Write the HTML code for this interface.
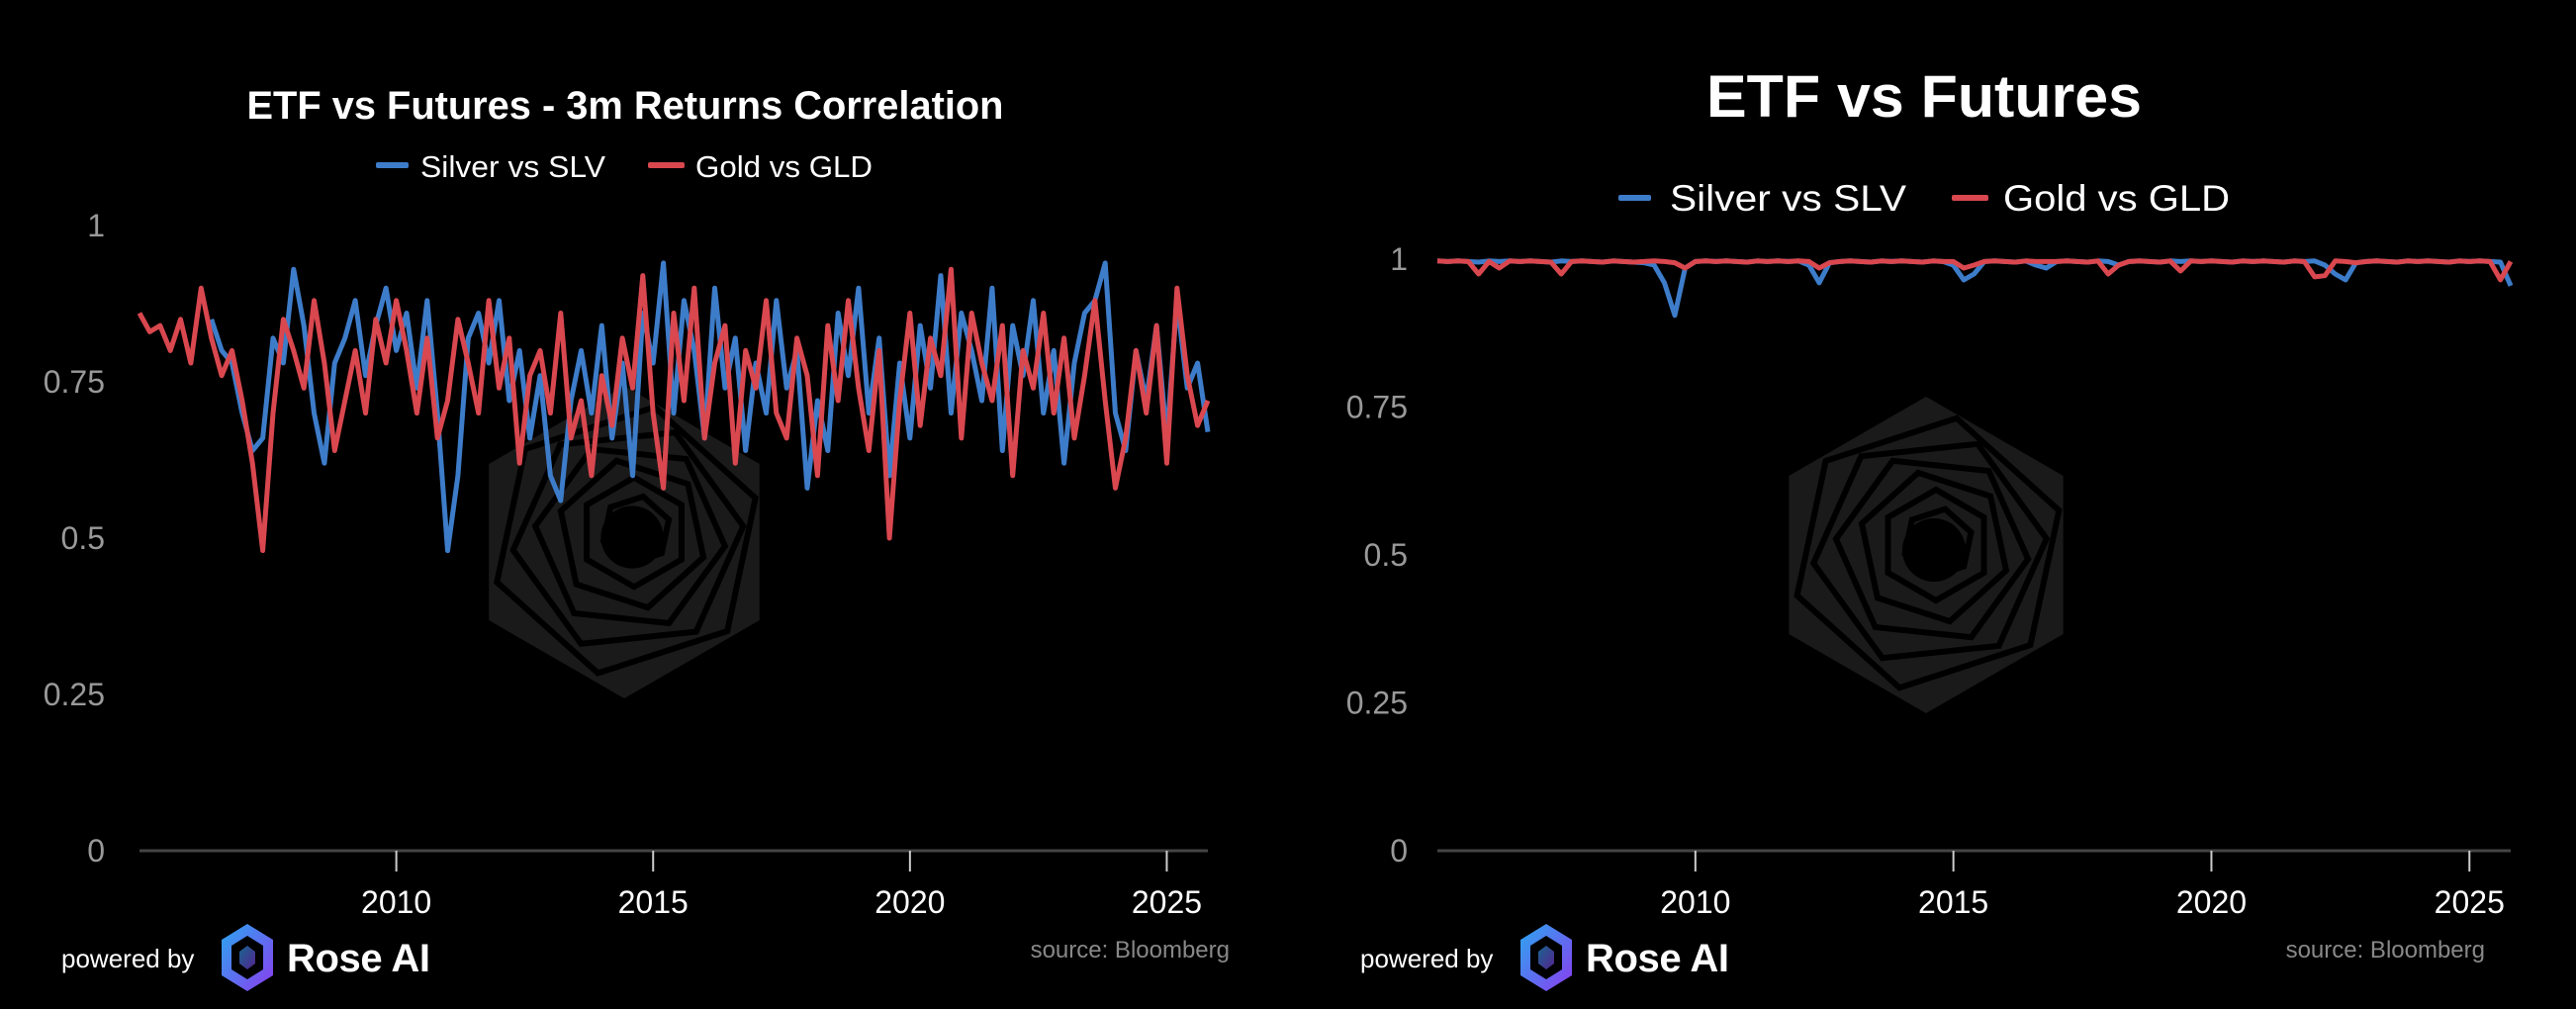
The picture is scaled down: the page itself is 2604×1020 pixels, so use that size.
<!DOCTYPE html>
<html><head><meta charset="utf-8"><style>
html,body{margin:0;padding:0;background:#000;}
svg{display:block;font-family:"Liberation Sans",sans-serif;}
</style></head><body>
<svg id="root" width="2604" height="1020" viewBox="0 0 2604 1020">
<rect width="2604" height="1020" fill="#000"/>
<defs>
<linearGradient id="rg" x1="0" y1="0" x2="1" y2="1"><stop offset="0" stop-color="#2aa7f0"/><stop offset="1" stop-color="#8b3cf0"/></linearGradient>
</defs>
<g id="wm1"></g>
<g id="wm2"></g>

<g>
<text x="632" y="120" fill="#fff" font-size="40" font-weight="bold" text-anchor="middle" textLength="765" lengthAdjust="spacingAndGlyphs">ETF vs Futures - 3m Returns Correlation</text>
<g>
<g><rect x="380" y="164" width="33" height="6" rx="2" fill="#3d7cc9"/><text x="425" y="179" fill="#fff" font-size="31" textLength="187" lengthAdjust="spacingAndGlyphs">Silver vs SLV</text></g>
<g><rect x="655" y="164" width="37" height="6" rx="2" fill="#d9474f"/><text x="703" y="179" fill="#fff" font-size="31" textLength="179" lengthAdjust="spacingAndGlyphs">Gold vs GLD</text></g>
</g>
<g id="yl"></g>
<g id="xl"></g>
<g id="sl"></g>
<text x="62" y="978" fill="#fff" font-size="26">powered by</text>
<g><polygon points="250,934 276,950 276,986 250,1002 224,986 224,950" fill="url(#rg)"/><polygon points="250,946 266,956 266,980 250,990 234,980 234,956" fill="#000"/><polygon points="250,956 258,962 258,974 250,980 242,974 242,962" fill="url(#rg)" opacity="0.6"/></g>
<text x="290" y="982" fill="#fff" font-size="40" font-weight="bold" textLength="145">Rose AI</text>
<text x="1243" y="968" fill="#888" font-size="24" text-anchor="end">source: Bloomberg</text>
</g>

<g>
<text x="1945" y="118" fill="#fff" font-size="60" font-weight="bold" text-anchor="middle" textLength="440" lengthAdjust="spacingAndGlyphs">ETF vs Futures</text>
<g>
<g><rect x="1636" y="197" width="33" height="6" rx="2" fill="#3d7cc9"/><text x="1688" y="213" fill="#fff" font-size="37" textLength="239" lengthAdjust="spacingAndGlyphs">Silver vs SLV</text></g>
<g><rect x="1973" y="197" width="37" height="6" rx="2" fill="#d9474f"/><text x="2025" y="213" fill="#fff" font-size="37" textLength="229" lengthAdjust="spacingAndGlyphs">Gold vs GLD</text></g>
</g>
<g id="yr"></g>
<g id="xr"></g>
<g id="sr"></g>
<text x="1375" y="978" fill="#fff" font-size="26">powered by</text>
<g><polygon points="1563,934 1589,950 1589,986 1563,1002 1537,986 1537,950" fill="url(#rg)"/><polygon points="1563,946 1579,956 1579,980 1563,990 1547,980 1547,956" fill="#000"/><polygon points="1563,956 1571,962 1571,974 1563,980 1555,974 1555,962" fill="url(#rg)" opacity="0.6"/></g>
<text x="1603" y="982" fill="#fff" font-size="40" font-weight="bold" textLength="145">Rose AI</text>
<text x="2512" y="968" fill="#888" font-size="24" text-anchor="end">source: Bloomberg</text>
</g>
</svg>
<script>
const yTicks = [0, 0.25, 0.5, 0.75, 1];
const yTickLabels = ["0", "0.25", "0.5", "0.75", "1"];
const xTicks = [2010, 2015, 2020, 2025];
const xTickLabels = ["2010", "2015", "2020", "2025"];
const step = 0.2;
const silverStartL = 2006.4;
const goldStartL = 2005.0;
const silverCorr3m = [.85,.80,.78,
.70,.64,.66,.82,.78, .93,.84,.70,.62,.78, .82,.88,.76,.84,.90, .80,.86,.74,.88,.70,
.48,.60,.82,.86,.78, .88,.72,.80,.66,.76, .60,.56,.72,.80,.70, .84,.66,.78,.60,.86,
.78,.94,.70,.88,.80, .66,.90,.74,.82,.64, .78,.70,.88,.74,.80, .58,.72,.64,.86,.76,
.90,.70,.82,.60,.78, .66,.84,.74,.92,.70, .86,.80,.72,.90,.64, .84,.76,.88,.70,.80,
.62,.78,.86,.88,.94, .70,.64,.80,.72,.84, .66,.88,.74,.78,.67];
const goldCorr3m = [.86,.83,.84,.80,.85,.78,.90,.82,.76,.80,
.72,.62,.48,.70,.85,.80,.74,.88,.78,.64,
.72,.80,.70,.85,.78,.88,.80,.70,.82,.66,
.72,.85,.78,.70,.88,.74,.82,.62,.76,.80,
.70,.86,.66,.72,.60,.76,.68,.82,.74,.92,
.70,.58,.86,.72,.90,.66,.78,.84,.62,.80,
.74,.88,.70,.66,.82,.76,.60,.84,.72,.88,
.74,.64,.80,.50,.72,.86,.68,.82,.76,.93,
.66,.86,.78,.72,.84,.60,.80,.74,.86,.70,
.82,.66,.76,.88,.72,.58,.66,.80,.70,.84,
.62,.90,.76,.68,.72];
const startR = 2005.0;
const silverCorrFull = [.997,.996,.997,.996,.995,.997,.996,.997,.996,.997,
.996,.995,.997,.996,.997,.996,.995,.997,.996,.995,
.994,.990,.960,.905,.985,.996,.997,.996,.997,.996,
.995,.997,.996,.997,.996,.997,.990,.960,.994,.996,
.997,.996,.995,.997,.996,.997,.996,.995,.997,.996,
.990,.965,.975,.996,.997,.996,.995,.997,.990,.985,
.996,.997,.996,.995,.997,.996,.990,.996,.997,.996,
.995,.997,.996,.997,.996,.997,.996,.995,.997,.996,
.997,.996,.995,.997,.996,.997,.990,.975,.965,.994,
.996,.997,.996,.995,.997,.996,.997,.996,.995,.997,
.996,.997,.996,.995,.955];
const goldCorrFull = [.997,.996,.997,.996,.975,.996,.985,.997,.996,.997,
.996,.995,.975,.996,.997,.996,.995,.997,.996,.995,
.996,.997,.996,.994,.985,.996,.997,.996,.997,.996,
.995,.997,.996,.997,.996,.997,.996,.985,.994,.996,
.997,.996,.995,.997,.996,.997,.996,.995,.997,.996,
.996,.985,.990,.996,.997,.996,.995,.997,.996,.996,
.996,.997,.996,.995,.997,.975,.990,.996,.997,.996,
.995,.997,.980,.997,.996,.997,.996,.995,.997,.996,
.997,.996,.995,.997,.996,.970,.972,.997,.996,.994,
.996,.997,.996,.995,.997,.996,.997,.996,.995,.997,
.996,.997,.996,.965,.996];

const NS = "http://www.w3.org/2000/svg";
function mk(tag, attrs, parent){const e=document.createElementNS(NS,tag);for(const k in attrs)e.setAttribute(k,attrs[k]);parent.appendChild(e);return e;}

function drawChart(cfg){
  const xS = yr => cfg.x0 + (yr - 2005.0) / (2025.8 - 2005.0) * (cfg.x1 - cfg.x0);
  const yS = v => cfg.yBottom - v * (cfg.yBottom - cfg.yTop);
  const yg = document.getElementById(cfg.yId);
  yTicks.forEach((t,i)=>{
    const tx = mk('text',{x:cfg.yLabelX,y:yS(t)+11,fill:'#999','font-size':32,'text-anchor':'end'},yg);
    
    
    tx.textContent = yTickLabels[i];
  });
  const xg = document.getElementById(cfg.xId);
  const ax = mk('line',{x1:cfg.x0,x2:cfg.x1,y1:cfg.yBottom,y2:cfg.yBottom,stroke:'#444','stroke-width':3},xg);
  
  
  xTicks.forEach((t,i)=>{
    const tk = mk('line',{x1:xS(t),x2:xS(t),y1:cfg.yBottom,y2:cfg.yBottom+21,stroke:'#ccc','stroke-width':2},xg);
    
    
    const tx = mk('text',{x:xS(t),y:cfg.yBottom+63,fill:'#fff','font-size':32,'text-anchor':'middle'},xg);
    
    
    tx.textContent = xTickLabels[i];
  });
  const sg = document.getElementById(cfg.sId);
  cfg.series.forEach(s=>{
    const pts = s.values.map((v,i)=>xS(s.start+i*step).toFixed(1)+','+yS(v).toFixed(1)).join(' ');
    const pl = mk('polyline',{points:pts,fill:'none',stroke:s.color,'stroke-width':cfg.sw,'stroke-linejoin':'round'},sg);
    
    
  });
}
drawChart({x0:141,x1:1221,yTop:228,yBottom:860,yLabelX:106,yId:'yl',xId:'xl',sId:'sl',sw:5,
  series:[{values:silverCorr3m,start:silverStartL,color:'#3d7cc9',name:'silver-vs-slv-line'},
          {values:goldCorr3m,start:goldStartL,color:'#d9474f',name:'gold-vs-gld-line'}]});
drawChart({x0:1453,x1:2538,yTop:262,yBottom:860,yLabelX:1423,yId:'yr',xId:'xr',sId:'sr',sw:5,
  series:[{values:silverCorrFull,start:startR,color:'#3d7cc9',name:'silver-vs-slv-line-right'},
          {values:goldCorrFull,start:startR,color:'#d9474f',name:'gold-vs-gld-line-right'}]});

function hexPts(cx,cy,r,rot){let p=[];for(let k=0;k<6;k++){const a=Math.PI/180*(60*k-90+rot);p.push((cx+r*Math.cos(a)).toFixed(1)+','+(cy+r*Math.sin(a)).toFixed(1));}return p.join(' ');}
function watermark(id,cx,cy,r){
  const g=document.getElementById(id);
  mk('polygon',{points:hexPts(cx,cy,r,0),fill:'#1a1a1a'},g);
  for(let k=1;k<=6;k++){
    mk('polygon',{points:hexPts(cx+k*2,cy-k*2,r*(1-k*0.13),k*12),fill:'none',stroke:'#000','stroke-width':6},g);
  }
  mk('circle',{cx:cx+8,cy:cy-5,r:r*0.2,fill:'#000'},g);
}
watermark('wm1',631,548,158);
watermark('wm2',1947,561,160);
</script>
</body></html>
